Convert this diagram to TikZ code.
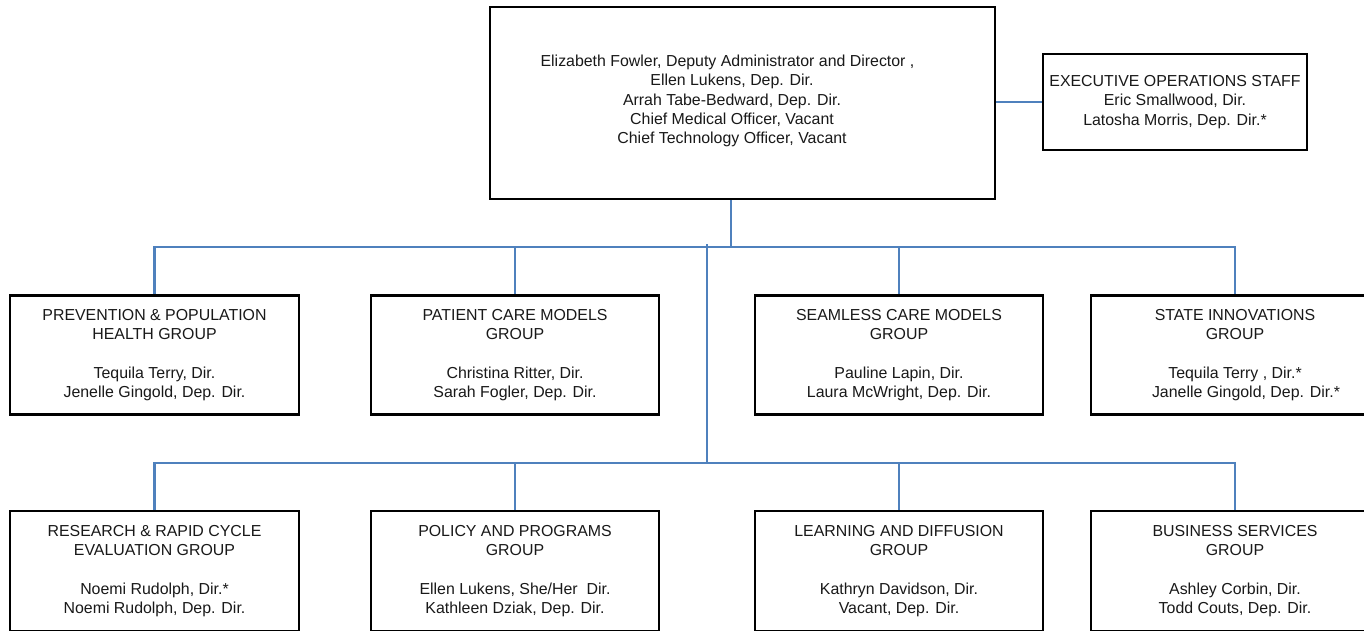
\documentclass[tikz,border=0pt]{standalone}
\usepackage{fontspec}
\setmainfont{Liberation Sans}
\definecolor{linkblue}{RGB}{79,129,189}
\begin{document}
\begin{tikzpicture}[x=1pt,y=-1pt,
  txt/.style={font=\fontsize{15.9pt}{19.2pt}\selectfont, align=center, text=black!90},
  box/.style={txt, draw=black, line width=2.6pt, inner sep=0pt, fill=white},
  grp/.style={box, minimum width=288pt, minimum height=119pt},
  link/.style={draw=linkblue, line width=2.5pt}]
\useasboundingbox (0,0) rectangle (1364,630);
\clip (0,0) rectangle (1364,630);
\fill[white] (0,0) rectangle (1364,630);

% top boxes
\node[box, minimum width=505pt, minimum height=192pt] (top) at (742.5,103) {};
\node[txt] (toptxt) at (732,101) {Elizabeth Fowler, Deputy Administrator and Director ,\hspace*{9pt}\\
Ellen Lukens, Dep. Dir.\hspace*{20pt}\\
Arrah Tabe-Bedward, Dep. Dir.\\
Chief Medical Officer, Vacant\\
Chief Technology Officer, Vacant};
\node[box, minimum width=264pt, minimum height=96pt] (exec) at (1175,102) {EXECUTIVE OPERATIONS STAFF\\
Eric Smallwood, Dir.\\
Latosha Morris, Dep. Dir.*};

% row 1
\node[grp, minimum width=289pt] (g1) at (154.5,355) {PREVENTION \& POPULATION\\ HEALTH GROUP\\[19.2pt] Tequila Terry, Dir.\\ Jenelle Gingold, Dep. Dir.};
\node[grp] (g2) at (515,355) {PATIENT CARE MODELS\\ GROUP\\[19.2pt] Christina Ritter, Dir.\\ Sarah Fogler, Dep. Dir.};
\node[grp] (g3) at (899,355) {SEAMLESS CARE MODELS\\ GROUP\\[19.2pt] Pauline Lapin, Dir.\\ Laura McWright, Dep. Dir.};
\node[grp] (g4) at (1235,355) {STATE INNOVATIONS\\ GROUP\\[19.2pt] Tequila Terry , Dir.*\hspace*{15pt}\\ \hspace*{22pt}Janelle Gingold, Dep. Dir.*};

% row 2
\node[grp, minimum width=289pt, minimum height=120pt] (h1) at (154.5,571) {RESEARCH \& RAPID CYCLE\\ EVALUATION GROUP\\[19.2pt] Noemi Rudolph, Dir.*\\ Noemi Rudolph, Dep. Dir.};
\node[grp, minimum height=120pt] (h2) at (515,571) {POLICY AND PROGRAMS\\ GROUP\\[19.2pt] Ellen Lukens, She/Her\ \ Dir.\\ Kathleen Dziak, Dep. Dir.};
\node[grp, minimum height=120pt] (h3) at (899,571) {LEARNING AND DIFFUSION\\ GROUP\\[19.2pt] Kathryn Davidson, Dir.\\ Vacant, Dep. Dir.};
\node[grp, minimum height=120pt] (h4) at (1235,571) {BUSINESS SERVICES\\ GROUP\\[19.2pt] Ashley Corbin, Dir.\\ Todd Couts, Dep. Dir.};

% connector points
\coordinate (bus1) at (731,247);
\coordinate (hubtop) at (707,244);
\coordinate (bus2) at (707,463);

% connectors
\draw[link] (top.east |- exec.west) -- (exec.west);
\draw[link] (top.south -| bus1) -- (bus1);
\draw[link] (g1.north) -- (g1.north |- bus1) -- (g4.north |- bus1) -- (g4.north);
\draw[link] (g2.north |- bus1) -- (g2.north);
\draw[link] (g3.north |- bus1) -- (g3.north);
\draw[link] (hubtop) -- (bus2);
\draw[link] (h1.north) -- (h1.north |- bus2) -- (h4.north |- bus2) -- (h4.north);
\draw[link] (h2.north |- bus2) -- (h2.north);
\draw[link] (h3.north |- bus2) -- (h3.north);
\end{tikzpicture}
\end{document}
